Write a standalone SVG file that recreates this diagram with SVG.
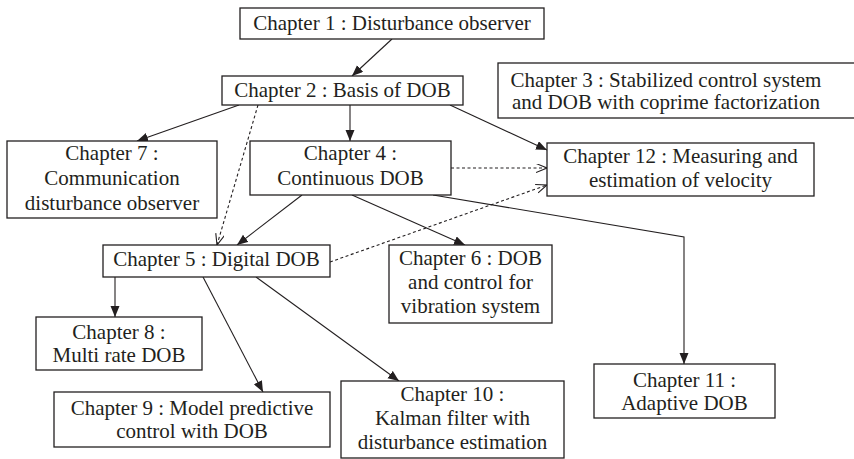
<svg xmlns="http://www.w3.org/2000/svg" width="854" height="459" viewBox="0 0 854 459">
<style>
  .box { fill: #ffffff; stroke: #231f20; stroke-width: 1.3; }
  .t { font-family: "Liberation Serif", "Times New Roman", serif; font-size: 21px; fill: #231f20; text-anchor: middle; }
  .c { fill: none; stroke: #231f20; stroke-width: 1.1; }
  .solid { marker-end: url(#arrF); }
  .dash { stroke-dasharray: 3 2.5; marker-end: url(#arrO); }
</style>
<defs>
  <marker id="arrF" markerUnits="userSpaceOnUse" markerWidth="12" markerHeight="10" refX="11" refY="4.5" orient="auto">
    <path d="M0,0 L11,4.5 L0,9 z" fill="#231f20"/>
  </marker>
  <marker id="arrO" markerUnits="userSpaceOnUse" markerWidth="12" markerHeight="10" refX="11" refY="4.5" orient="auto">
    <path d="M0,0 L11,4.5 L0,9" fill="none" stroke="#231f20" stroke-width="1.1"/>
  </marker>
</defs>
<rect width="854" height="459" fill="#ffffff"/>

<g id="connectors">
  <line class="c solid" x1="392" y1="39" x2="352" y2="76"/>
  <line class="c solid" x1="239" y1="105" x2="137" y2="141"/>
  <line class="c solid" x1="350" y1="105" x2="350" y2="141"/>
  <line class="c solid" x1="450" y1="105" x2="547" y2="150"/>
  <line class="c dash" x1="258" y1="105" x2="217" y2="245"/>
  <line class="c dash" x1="451" y1="168" x2="547" y2="168"/>
  <line class="c dash" x1="330" y1="262" x2="547" y2="185"/>
  <line class="c solid" x1="302" y1="195" x2="237" y2="245"/>
  <line class="c solid" x1="352" y1="195" x2="465" y2="245"/>
  <polyline class="c solid" points="433,195 684,237 684,364"/>
  <line class="c solid" x1="115" y1="277" x2="115" y2="317"/>
  <line class="c solid" x1="203" y1="277" x2="263" y2="392"/>
  <line class="c solid" x1="256" y1="277" x2="399" y2="381"/>
</g>

<g id="ch1">
  <rect class="box" x="240" y="8" width="304" height="31"/>
  <text class="t" x="392" y="30">Chapter 1 : Disturbance observer</text>
</g>
<g id="ch2">
  <rect class="box" x="222" y="76" width="241" height="29"/>
  <text class="t" x="342.5" y="97">Chapter 2 : Basis of DOB</text>
</g>
<g id="ch3">
  <rect class="box" x="498" y="63" width="362" height="55"/>
  <text class="t" x="666" y="87">Chapter 3 : Stabilized control system</text>
  <text class="t" x="666" y="109">and DOB with coprime factorization</text>
</g>
<g id="ch12">
  <rect class="box" x="547" y="143" width="267" height="53"/>
  <text class="t" x="680.5" y="163">Chapter 12 : Measuring and</text>
  <text class="t" x="680.5" y="187">estimation of velocity</text>
</g>
<g id="ch7">
  <rect class="box" x="7" y="141" width="210" height="77"/>
  <text class="t" x="112" y="160">Chapter 7 :</text>
  <text class="t" x="112" y="185">Communication</text>
  <text class="t" x="112" y="210">disturbance observer</text>
</g>
<g id="ch4">
  <rect class="box" x="250" y="141" width="201" height="54"/>
  <text class="t" x="350.5" y="160">Chapter 4 :</text>
  <text class="t" x="350.5" y="185">Continuous DOB</text>
</g>
<g id="ch5">
  <rect class="box" x="103" y="245" width="227" height="32"/>
  <text class="t" x="216.5" y="266">Chapter 5 : Digital DOB</text>
</g>
<g id="ch6">
  <rect class="box" x="389" y="245" width="163" height="78"/>
  <text class="t" x="470.5" y="265">Chapter 6 : DOB</text>
  <text class="t" x="470.5" y="289">and control for</text>
  <text class="t" x="470.5" y="313">vibration system</text>
</g>
<g id="ch8">
  <rect class="box" x="36" y="317" width="166" height="53"/>
  <text class="t" x="119" y="339">Chapter 8 :</text>
  <text class="t" x="119" y="362">Multi rate DOB</text>
</g>
<g id="ch9">
  <rect class="box" x="54" y="392" width="276" height="55"/>
  <text class="t" x="192" y="415">Chapter 9 : Model predictive</text>
  <text class="t" x="192" y="438">control with DOB</text>
</g>
<g id="ch10">
  <rect class="box" x="341" y="381" width="223" height="77"/>
  <text class="t" x="452.5" y="401">Chapter 10 :</text>
  <text class="t" x="452.5" y="425">Kalman filter with</text>
  <text class="t" x="452.5" y="449">disturbance estimation</text>
</g>
<g id="ch11">
  <rect class="box" x="594" y="364" width="181" height="54"/>
  <text class="t" x="684.5" y="387">Chapter 11 :</text>
  <text class="t" x="684.5" y="410">Adaptive DOB</text>
</g>
</svg>
